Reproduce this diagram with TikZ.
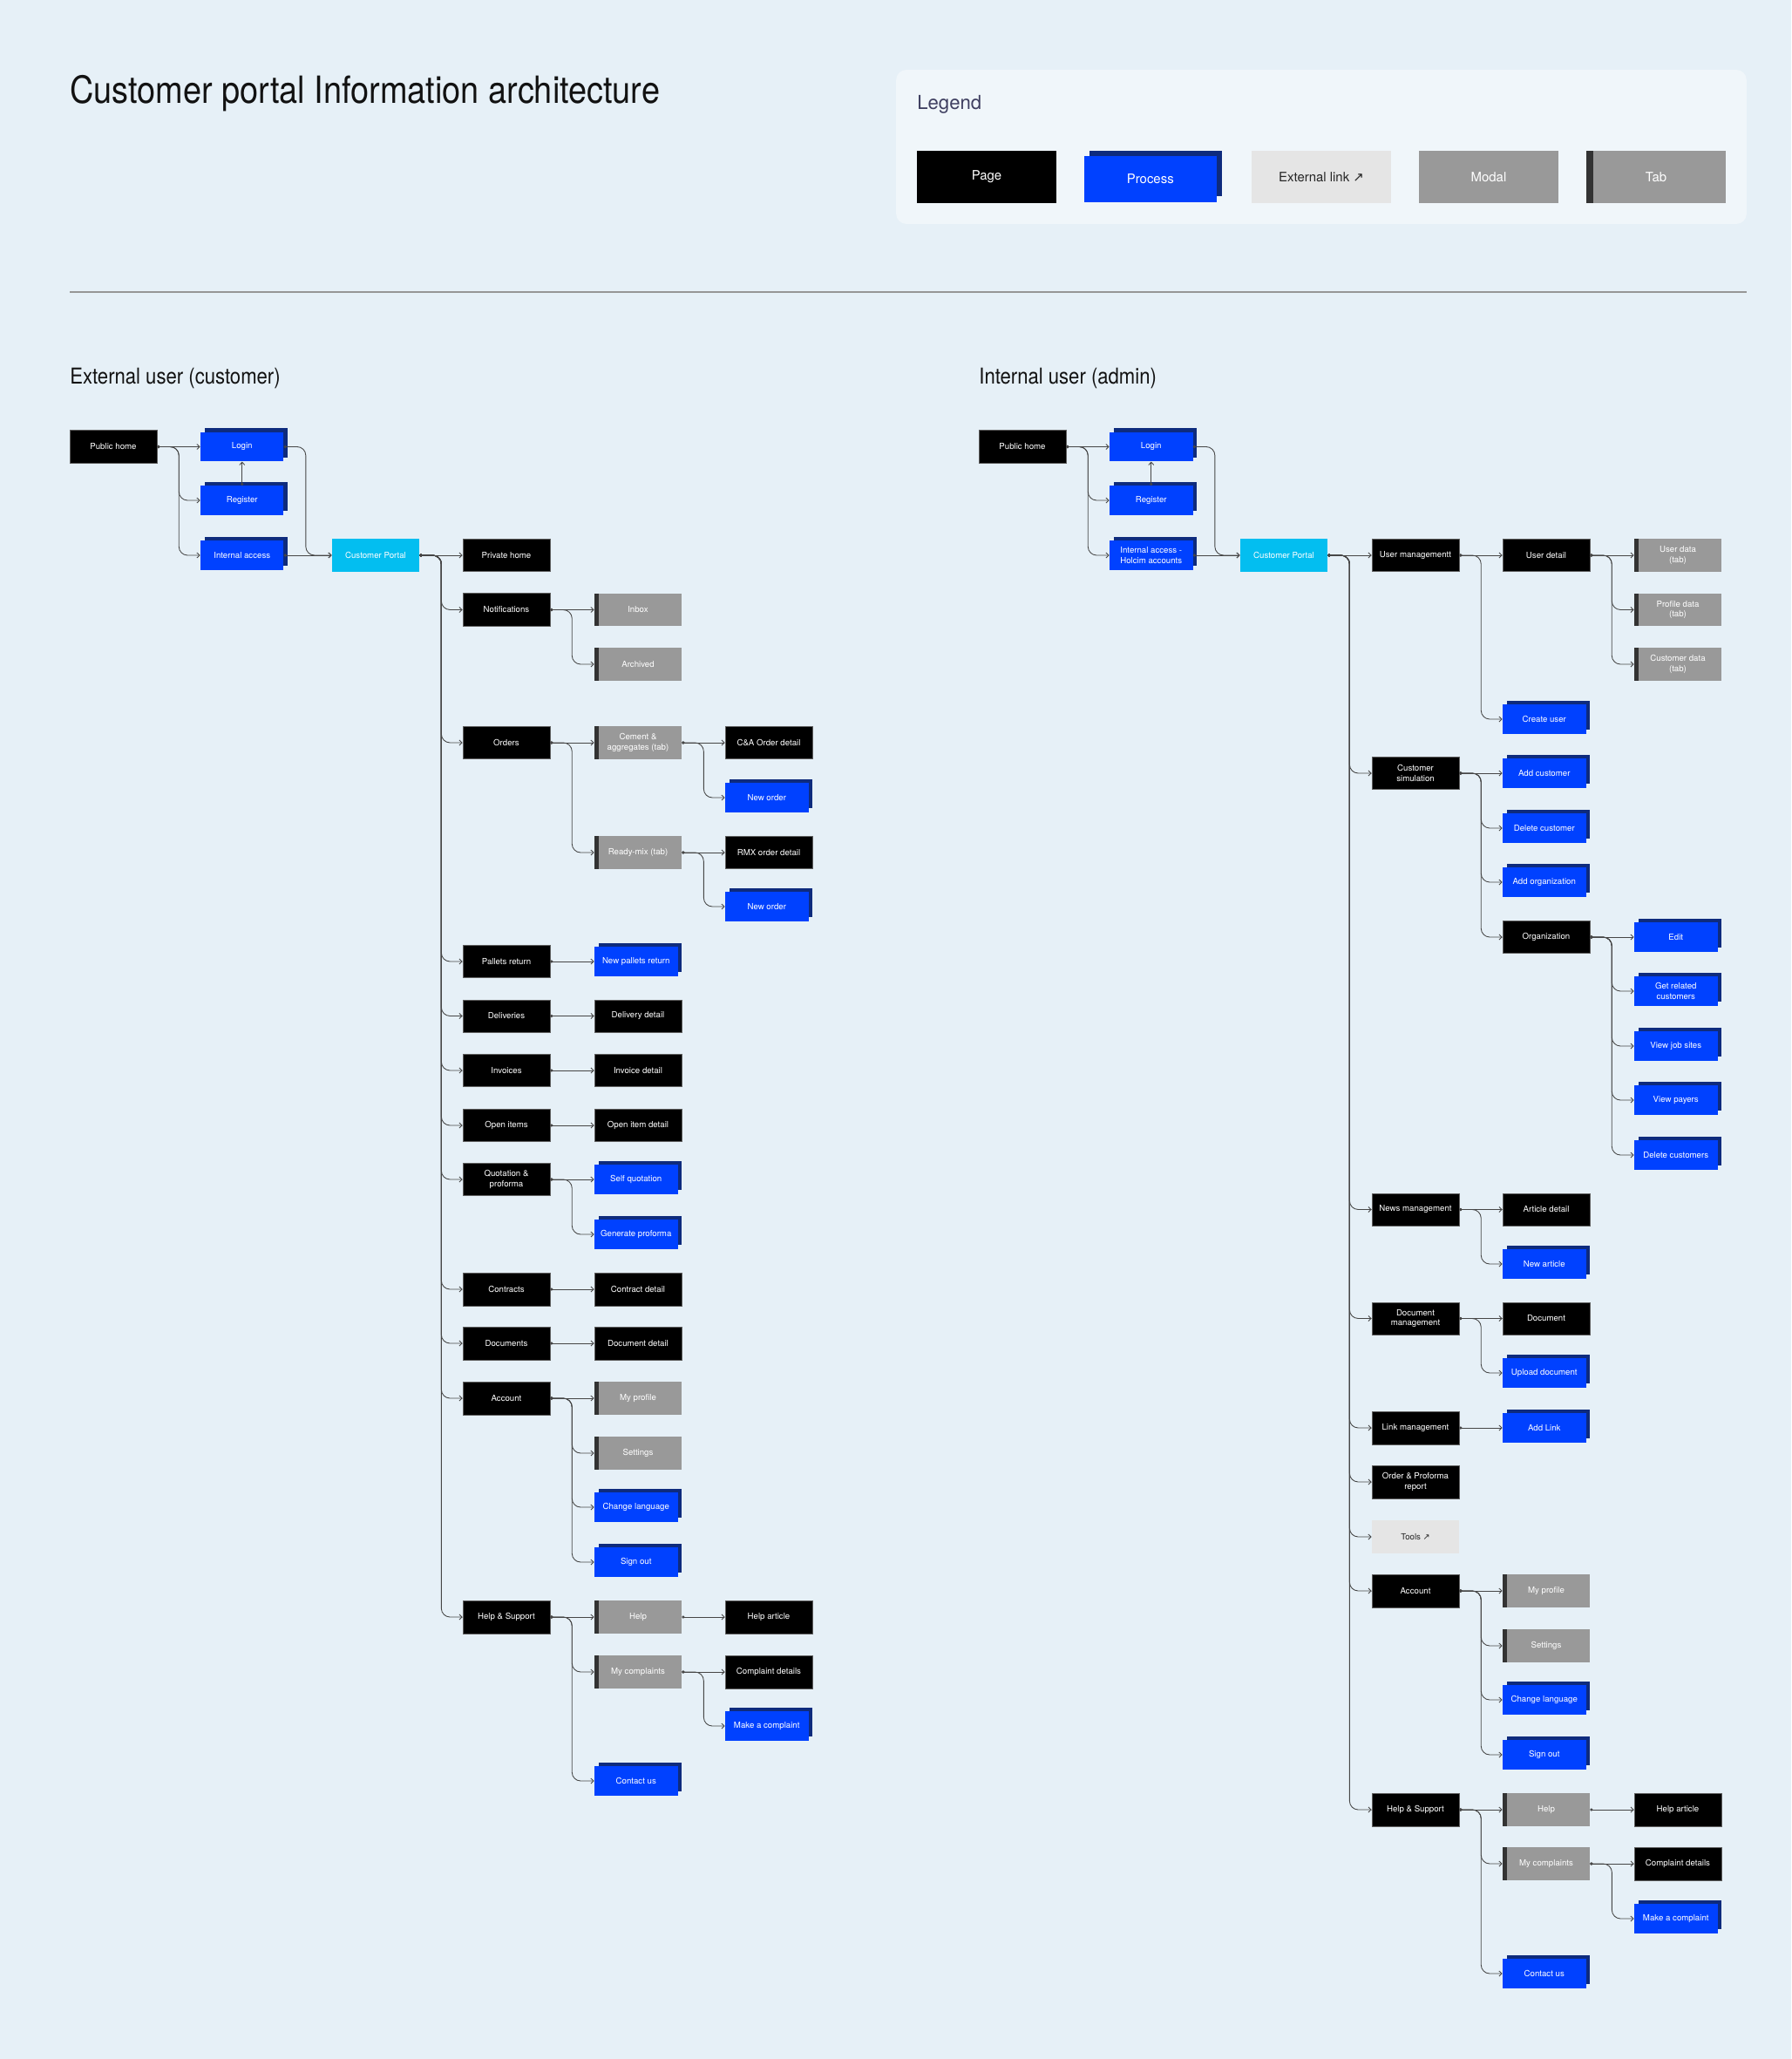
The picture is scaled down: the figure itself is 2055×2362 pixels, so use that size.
\documentclass[tikz,border=0pt]{standalone}
\usepackage{fontspec}
\setmainfont{TeX Gyre Heros}
\newfontfamily\iahead[FakeStretch=0.88]{TeX Gyre Heros}
\newfontfamily\iaarrow{DejaVu Sans}
\usepackage{xcolor}
\definecolor{iabg}{RGB}{230,240,247}
\definecolor{legendbg}{RGB}{240,246,250}
\definecolor{legendtext}{RGB}{62,62,96}
\definecolor{procblue}{RGB}{0,65,255}
\definecolor{procdark}{RGB}{14,43,125}
\definecolor{portalcyan}{RGB}{3,190,240}
\definecolor{modalgray}{RGB}{153,153,153}
\definecolor{tabdark}{RGB}{51,51,51}
\definecolor{extgray}{RGB}{229,229,229}
\definecolor{pageedge}{RGB}{95,95,95}
\definecolor{conngray}{RGB}{70,70,70}
\definecolor{sepgray}{RGB}{150,150,150}
\usetikzlibrary{arrows.meta,shadows}
\newcommand{\iabox}{\fontsize{5.5}{6.8}\selectfont}
\newcommand{\ialegend}{\fontsize{8.5}{10}\selectfont}

\begin{document}
\begin{tikzpicture}[
  x=0.02cm, y=-0.02cm,
  iabase/.style={
    rectangle,
    minimum width=2cm, minimum height=0.75cm,
    inner sep=0pt,
    align=center,
    font=\iabox
  },
  pagebox/.style={iabase, fill=black, draw=pageedge, line width=0.3pt, text=white},
  procbox/.style={
    iabase, fill=procblue, text=white,
    minimum width=1.91cm, minimum height=0.67cm,
    xshift=-0.045cm,
    general shadow={fill=procdark, shadow xshift=#1, shadow yshift=#1}
  },
  procbox/.default=0.09cm,
  tabbox/.style={
    iabase, fill=modalgray, text=white,
    path picture={\fill[tabdark] (path picture bounding box.north west)
      rectangle ([xshift=#1]path picture bounding box.south west);}
  },
  tabbox/.default=0.1cm,
  modalbox/.style={iabase, fill=modalgray, text=white},
  extbox/.style={iabase, fill=extgray, text=black!85},
  portalbox/.style={iabase, fill=portalcyan, text=white},
  legbox/.style={minimum width=3.2cm, minimum height=1.2cm, font=\ialegend},
  headtext/.style={anchor=base west, inner sep=0pt, text=black!93, font=\iahead\fontsize{14.3}{17}\selectfont},
  conn/.style={{Circle[length=1.8pt]}-{Straight Barb[length=1.8pt,width=3.4pt]},
    line width=0.5pt, draw=conngray, rounded corners=0.2cm},
  sepline/.style={draw=sepgray, line width=0.8pt}
]
\fill[iabg] (0,0) rectangle (2055,2362);
\useasboundingbox (0,0) rectangle (2055,2362);

% title and legend
\node[anchor=base west, inner sep=0pt, text=black!93, font=\iahead\fontsize{24.5}{28}\selectfont] (title) at (80,119)
  {Customer portal Information architecture};
\node[rectangle, rounded corners=0.24cm, fill=legendbg, minimum width=19.52cm, minimum height=3.54cm] (legend) at (1516,168.5) {};
\node[anchor=base west, inner sep=0pt, text=legendtext, font=\fontsize{12.6}{15}\selectfont] (legtitle) at (1052,126) {Legend};
\node[pagebox, legbox, draw=none]  (lgpage)  at (1132,203)   {Page};
\node[procbox=0.13cm, font=\ialegend, minimum width=3.04cm, minimum height=1.06cm] (lgproc) at (1322,205.5) {Process};
\node[extbox, legbox]              (lgext)   at (1516,203)   {External link {\iaarrow ↗}};
\node[modalbox, legbox]            (lgmodal) at (1708,203)   {Modal};
\node[tabbox=0.16cm, legbox]       (lgtab)   at (1900,203)   {Tab};

\draw[sepline] (80,335) -- (2004,335);

\node[headtext] (exthead) at (80,440)   {External user (customer)};
\node[headtext] (inthead) at (1123,440) {Internal user (admin)};

% ---------- external user ----------
\node[pagebox]   (epub)   at (130,512.5) {Public home};
\node[procbox]   (elogin) at (280,512.5) {Login};
\node[procbox]   (ereg)   at (280,574)   {Register};
\node[procbox]   (eint)   at (280,637)   {Internal access};
\node[portalbox] (ecp)    at (431,637)   {Customer Portal};

\node[pagebox] (eprivate) at (581,637)    {Private home};
\node[pagebox] (enotif)   at (581,699.5)  {Notifications};
\node[tabbox]  (einbox)   at (732,699.5)  {Inbox};
\node[tabbox]  (earch)    at (732,762)    {Archived};
\node[pagebox] (eorders)  at (581,852)    {Orders};
\node[tabbox]  (ecement)  at (732,852)    {Cement \&\\aggregates (tab)};
\node[pagebox] (ecadet)   at (882,852)    {C\&A Order detail};
\node[procbox] (enew1)    at (882,915)    {New order};
\node[tabbox]  (eready)   at (732,978)    {Ready-mix (tab)};
\node[pagebox] (ermx)     at (882,978)    {RMX order detail};
\node[procbox] (enew2)    at (882,1040)   {New order};
\node[pagebox] (epallet)  at (581,1103)   {Pallets return};
\node[procbox] (enewpal)  at (732,1103)   {New pallets return};
\node[pagebox] (edeliv)   at (581,1165.5) {Deliveries};
\node[pagebox] (edelivd)  at (732,1165.5) {Delivery detail};
\node[pagebox] (einv)     at (581,1228)   {Invoices};
\node[pagebox] (einvd)    at (732,1228)   {Invoice detail};
\node[pagebox] (eopen)    at (581,1291)   {Open items};
\node[pagebox] (eopend)   at (732,1291)   {Open item detail};
\node[pagebox] (equot)    at (581,1353)   {Quotation \&\\proforma};
\node[procbox] (eselfq)   at (732,1353)   {Self quotation};
\node[procbox] (egenp)    at (732,1416)   {Generate proforma};
\node[pagebox] (econtr)   at (581,1479)   {Contracts};
\node[pagebox] (econtrd)  at (732,1479)   {Contract detail};
\node[pagebox] (edocs)    at (581,1541)   {Documents};
\node[pagebox] (edocsd)   at (732,1541)   {Document detail};
\node[pagebox] (eacc)     at (581,1604)   {Account};
\node[tabbox]  (eprof)    at (732,1604)   {My profile};
\node[tabbox]  (esett)    at (732,1667)   {Settings};
\node[procbox] (elang)    at (732,1729)   {Change language};
\node[procbox] (esign)    at (732,1792)   {Sign out};
\node[pagebox] (ehs)      at (581,1855)   {Help \& Support};
\node[tabbox]  (ehelp)    at (732,1855)   {Help};
\node[pagebox] (eharticle) at (882,1855)  {Help article};
\node[tabbox]  (ecompl)   at (732,1918)   {My complaints};
\node[pagebox] (ecompld)  at (882,1918)   {Complaint details};
\node[procbox] (emake)    at (882,1980)   {Make a complaint};
\node[procbox] (econtact) at (732,2043)   {Contact us};

\draw[conn] (epub.east) -- (elogin.west);
\draw[conn] (epub.east) -- ++(25,0) |- (ereg.west);
\draw[conn] (epub.east) -- ++(25,0) |- (eint.west);
\draw[conn] (ereg.north) -- (elogin.south);
\draw[conn] (elogin.east) -- ++(25,0) |- (ecp.west);
\draw[conn] (eint.east) -- (ecp.west);

\draw[conn] (ecp.east) -- (eprivate.west);
\draw[conn] (ecp.east) -- ++(25,0) |- (enotif.west);
\draw[conn] (ecp.east) -- ++(25,0) |- (eorders.west);
\draw[conn] (ecp.east) -- ++(25,0) |- (epallet.west);
\draw[conn] (ecp.east) -- ++(25,0) |- (edeliv.west);
\draw[conn] (ecp.east) -- ++(25,0) |- (einv.west);
\draw[conn] (ecp.east) -- ++(25,0) |- (eopen.west);
\draw[conn] (ecp.east) -- ++(25,0) |- (equot.west);
\draw[conn] (ecp.east) -- ++(25,0) |- (econtr.west);
\draw[conn] (ecp.east) -- ++(25,0) |- (edocs.west);
\draw[conn] (ecp.east) -- ++(25,0) |- (eacc.west);
\draw[conn] (ecp.east) -- ++(25,0) |- (ehs.west);

\draw[conn] (enotif.east) -- (einbox.west);
\draw[conn] (enotif.east) -- ++(25,0) |- (earch.west);
\draw[conn] (eorders.east) -- (ecement.west);
\draw[conn] (eorders.east) -- ++(25,0) |- (eready.west);
\draw[conn] (ecement.east) -- (ecadet.west);
\draw[conn] (ecement.east) -- ++(25,0) |- (enew1.west);
\draw[conn] (eready.east) -- (ermx.west);
\draw[conn] (eready.east) -- ++(25,0) |- (enew2.west);
\draw[conn] (epallet.east) -- (enewpal.west);
\draw[conn] (edeliv.east) -- (edelivd.west);
\draw[conn] (einv.east) -- (einvd.west);
\draw[conn] (eopen.east) -- (eopend.west);
\draw[conn] (equot.east) -- (eselfq.west);
\draw[conn] (equot.east) -- ++(25,0) |- (egenp.west);
\draw[conn] (econtr.east) -- (econtrd.west);
\draw[conn] (edocs.east) -- (edocsd.west);
\draw[conn] (eacc.east) -- (eprof.west);
\draw[conn] (eacc.east) -- ++(25,0) |- (esett.west);
\draw[conn] (eacc.east) -- ++(25,0) |- (elang.west);
\draw[conn] (eacc.east) -- ++(25,0) |- (esign.west);
\draw[conn] (ehs.east) -- (ehelp.west);
\draw[conn] (ehs.east) -- ++(25,0) |- (ecompl.west);
\draw[conn] (ehs.east) -- ++(25,0) |- (econtact.west);
\draw[conn] (ehelp.east) -- (eharticle.west);
\draw[conn] (ecompl.east) -- (ecompld.west);
\draw[conn] (ecompl.east) -- ++(25,0) |- (emake.west);

% ---------- internal user ----------
\node[pagebox]   (ipub)   at (1173,512.5) {Public home};
\node[procbox]   (ilogin) at (1323,512.5) {Login};
\node[procbox]   (ireg)   at (1323,574)   {Register};
\node[procbox]   (iint)   at (1323,637)   {Internal access -\\Holcim accounts};
\node[portalbox] (icp)    at (1473,637)   {Customer Portal};

\node[pagebox] (ium)     at (1624,637)    {User managementt};
\node[pagebox] (iud)     at (1774,637)    {User detail};
\node[tabbox]  (iudata)  at (1925,637)    {User data\\(tab)};
\node[tabbox]  (ipdata)  at (1925,699.5)  {Profile data\\(tab)};
\node[tabbox]  (icdata)  at (1925,762)    {Customer data\\(tab)};
\node[procbox] (icreate) at (1774,825)    {Create user};
\node[pagebox] (ics)     at (1624,887)    {Customer\\simulation};
\node[procbox] (iaddc)   at (1774,887)    {Add customer};
\node[procbox] (idelc)   at (1774,950)    {Delete customer};
\node[procbox] (iaddo)   at (1774,1012)   {Add organization};
\node[pagebox] (iorg)    at (1774,1075)   {Organization};
\node[procbox] (iedit)   at (1925,1075)   {Edit};
\node[procbox] (irel)    at (1925,1137)   {Get related\\customers};
\node[procbox] (ijob)    at (1925,1200)   {View job sites};
\node[procbox] (ipay)    at (1925,1262)   {View payers};
\node[procbox] (idelcs)  at (1925,1325)   {Delete customers};
\node[pagebox] (inews)   at (1624,1387.5) {News management};
\node[pagebox] (iart)    at (1774,1387.5) {Article detail};
\node[procbox] (inewart) at (1774,1450)   {New article};
\node[pagebox] (idocm)   at (1624,1512.5) {Document\\management};
\node[pagebox] (idoc)    at (1774,1512.5) {Document};
\node[procbox] (iupl)    at (1774,1575)   {Upload document};
\node[pagebox] (ilink)   at (1624,1638)   {Link management};
\node[procbox] (iaddl)   at (1774,1638)   {Add Link};
\node[pagebox] (iorder)  at (1624,1700)   {Order \& Proforma\\report};
\node[extbox]  (itools)  at (1624,1763)   {Tools {\iaarrow ↗}};
\node[pagebox] (iacc)    at (1624,1825)   {Account};
\node[tabbox]  (iprof)   at (1774,1825)   {My profile};
\node[tabbox]  (isett)   at (1774,1888)   {Settings};
\node[procbox] (ilang)   at (1774,1950)   {Change language};
\node[procbox] (isign)   at (1774,2013)   {Sign out};
\node[pagebox] (ihs)     at (1624,2076)   {Help \& Support};
\node[tabbox]  (ihelp)   at (1774,2076)   {Help};
\node[pagebox] (iharticle) at (1925,2076) {Help article};
\node[tabbox]  (icompl)  at (1774,2138)   {My complaints};
\node[pagebox] (icompld) at (1925,2138)   {Complaint details};
\node[procbox] (imake)   at (1925,2201)   {Make a complaint};
\node[procbox] (icontact) at (1774,2264)  {Contact us};

\draw[conn] (ipub.east) -- (ilogin.west);
\draw[conn] (ipub.east) -- ++(25,0) |- (ireg.west);
\draw[conn] (ipub.east) -- ++(25,0) |- (iint.west);
\draw[conn] (ireg.north) -- (ilogin.south);
\draw[conn] (ilogin.east) -- ++(25,0) |- (icp.west);
\draw[conn] (iint.east) -- (icp.west);

\draw[conn] (icp.east) -- (ium.west);
\draw[conn] (icp.east) -- ++(25,0) |- (ics.west);
\draw[conn] (icp.east) -- ++(25,0) |- (inews.west);
\draw[conn] (icp.east) -- ++(25,0) |- (idocm.west);
\draw[conn] (icp.east) -- ++(25,0) |- (ilink.west);
\draw[conn] (icp.east) -- ++(25,0) |- (iorder.west);
\draw[conn] (icp.east) -- ++(25,0) |- (itools.west);
\draw[conn] (icp.east) -- ++(25,0) |- (iacc.west);
\draw[conn] (icp.east) -- ++(25,0) |- (ihs.west);

\draw[conn] (ium.east) -- (iud.west);
\draw[conn] (ium.east) -- ++(25,0) |- (icreate.west);
\draw[conn] (iud.east) -- (iudata.west);
\draw[conn] (iud.east) -- ++(25,0) |- (ipdata.west);
\draw[conn] (iud.east) -- ++(25,0) |- (icdata.west);
\draw[conn] (ics.east) -- (iaddc.west);
\draw[conn] (ics.east) -- ++(25,0) |- (idelc.west);
\draw[conn] (ics.east) -- ++(25,0) |- (iaddo.west);
\draw[conn] (ics.east) -- ++(25,0) |- (iorg.west);
\draw[conn] (iorg.east) -- (iedit.west);
\draw[conn] (iorg.east) -- ++(25,0) |- (irel.west);
\draw[conn] (iorg.east) -- ++(25,0) |- (ijob.west);
\draw[conn] (iorg.east) -- ++(25,0) |- (ipay.west);
\draw[conn] (iorg.east) -- ++(25,0) |- (idelcs.west);
\draw[conn] (inews.east) -- (iart.west);
\draw[conn] (inews.east) -- ++(25,0) |- (inewart.west);
\draw[conn] (idocm.east) -- (idoc.west);
\draw[conn] (idocm.east) -- ++(25,0) |- (iupl.west);
\draw[conn] (ilink.east) -- (iaddl.west);
\draw[conn] (iacc.east) -- (iprof.west);
\draw[conn] (iacc.east) -- ++(25,0) |- (isett.west);
\draw[conn] (iacc.east) -- ++(25,0) |- (ilang.west);
\draw[conn] (iacc.east) -- ++(25,0) |- (isign.west);
\draw[conn] (ihs.east) -- (ihelp.west);
\draw[conn] (ihs.east) -- ++(25,0) |- (icompl.west);
\draw[conn] (ihs.east) -- ++(25,0) |- (icontact.west);
\draw[conn] (ihelp.east) -- (iharticle.west);
\draw[conn] (icompl.east) -- (icompld.west);
\draw[conn] (icompl.east) -- ++(25,0) |- (imake.west);
\end{tikzpicture}
\end{document}
